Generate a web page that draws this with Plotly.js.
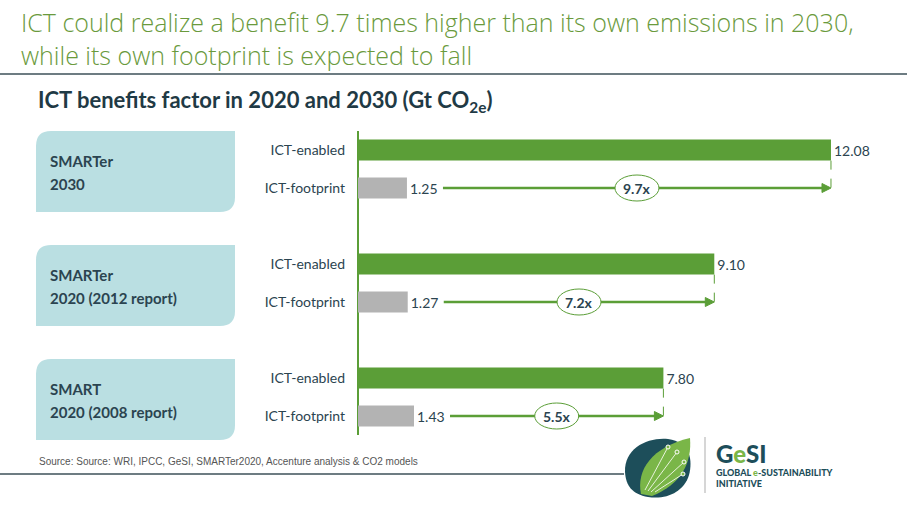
<!DOCTYPE html>
<html><head><meta charset="utf-8">
<script src="https://cdn.plot.ly/plotly-3.0.1.min.js"></script>
<style>html,body{margin:0;padding:0;background:#fff}#chart{width:907px;height:510px}</style>
</head><body><div id="chart"></div>
<script>
// ---- data ----
const titleLines = ["ICT could realize a benefit 9.7 times higher than its own emissions in 2030,", "while its own footprint is expected to fall"];
const groupLine1 = ["SMARTer", "SMARTer", "SMART"];
const groupLine2 = ["2030", "2020 (2012 report)", "2020 (2008 report)"];
const barLabels = ["ICT-enabled", "ICT-footprint"];
const enabled = [12.08, 9.10, 7.80];
const footprint = [1.25, 1.27, 1.43];
const sourceText = "Source: Source: WRI, IPCC, GeSI, SMARTer2020, Accenture analysis & CO2 models";

// ---- layout helpers (pixel -> paper) ----
const W = 907, H = 510;
const X = px => px / W;
const Y = py => 1 - py / H;
const GREEN = "#5b9e37", GRAY = "#b3b3b3", DARK = "#2b4450", BOX = "#badfe2";

const rowEnabled = enabled.map((_, i) => i * 3);
const rowFoot = footprint.map((_, i) => i * 3 + 1);

const traces = [
  {type: "bar", orientation: "h", x: enabled, y: rowEnabled, width: 0.55,
   marker: {color: GREEN}, text: enabled.map(v => v.toFixed(2)), textposition: "outside",
   textfont: {family: "Lato, sans-serif", size: 14, color: DARK}, cliponaxis: false,
   constraintext: "none", hoverinfo: "none"},
  {type: "bar", orientation: "h", x: footprint, y: rowFoot, width: 0.55,
   marker: {color: GRAY}, text: footprint.map(v => v.toFixed(2)), textposition: "outside",
   textfont: {family: "Lato, sans-serif", size: 14, color: DARK}, cliponaxis: false,
   constraintext: "none", hoverinfo: "none"}
];

const shapes = [];
const annotations = [];

// title (one text block, two lines)
annotations.push({xref: "paper", yref: "paper", x: X(19), y: Y(39), xanchor: "left", yanchor: "middle", align: "left",
  text: titleLines.join("<br>"), showarrow: false, font: {family: "Open Sans, sans-serif", size: 25, color: "#6a9a3c", weight: 300}});

// group boxes
const boxTops = [131, 245, 359];
boxTops.forEach((t, i) => {
  const x0 = 36, x1 = 235, y0 = t, y1 = t + 81, r = 15;
  const p = (a, b) => X(a) + "," + Y(b);
  shapes.push({type: "path", xref: "paper", yref: "paper", layer: "below",
    path: `M${p(x0 + r, y0)} L${p(x1, y0)} L${p(x1, y1 - r)} Q${p(x1, y1)} ${p(x1 - r, y1)} L${p(x0, y1)} L${p(x0, y0 + r)} Q${p(x0, y0)} ${p(x0 + r, y0)} Z`,
    fillcolor: BOX, line: {width: 0}});
  annotations.push({xref: "paper", yref: "paper", x: X(48), y: Y(t + 30), xanchor: "left", yanchor: "middle",
    text: groupLine1[i], showarrow: false, font: {family: "Lato, sans-serif", size: 15, color: DARK, weight: 700}});
  annotations.push({xref: "paper", yref: "paper", x: X(48), y: Y(t + 53), xanchor: "left", yanchor: "middle",
    text: groupLine2[i], showarrow: false, font: {family: "Lato, sans-serif", size: 15, color: DARK, weight: 700}});
});

// arrows, dashed connectors, ratio ellipses
enabled.forEach((e, i) => {
  const f = footprint[i];
  const start = f + 0.92;
  const mid = (start + e) / 2;
  shapes.push({type: "line", xref: "x", yref: "y", x0: e, x1: e, y0: rowEnabled[i] + 0.28, y1: rowFoot[i],
    line: {color: GREEN, width: 1, dash: "dash"}});
  shapes.push({type: "line", xref: "x", yref: "y", x0: start, x1: e - 0.15, y0: rowFoot[i], y1: rowFoot[i],
    line: {color: GREEN, width: 2.5}});
  shapes.push({type: "path", xref: "x", yref: "y", xsizemode: "pixel", ysizemode: "pixel",
    xanchor: e, yanchor: rowFoot[i], path: "M-9,-4.5 L0,0 L-9,4.5 Z",
    fillcolor: GREEN, line: {color: GREEN, width: 1}});
  shapes.push({type: "circle", xref: "x", yref: "y", xsizemode: "pixel", ysizemode: "pixel",
    xanchor: mid, yanchor: rowFoot[i], x0: -22, x1: 22, y0: -13, y1: 13,
    fillcolor: "#ffffff", line: {color: GREEN, width: 1}});
  annotations.push({xref: "x", yref: "y", x: mid, y: rowFoot[i], text: (e / f).toFixed(1) + "x",
    showarrow: false, font: {family: "Lato, sans-serif", size: 14, color: DARK, weight: 700}});
});

// rules
shapes.push({type: "line", xref: "paper", yref: "paper", x0: 0, x1: 1, y0: Y(74), y1: Y(74), line: {color: "#3d5058", width: 1.5}});
shapes.push({type: "line", xref: "paper", yref: "paper", x0: 0, x1: X(624), y0: Y(474), y1: Y(474), line: {color: "#3d5058", width: 1.5}});
// logo separator
shapes.push({type: "line", xref: "paper", yref: "paper", x0: X(705), x1: X(705), y0: Y(437), y1: Y(493), line: {color: "#c8c8c8", width: 1.5}});
// logo leaf
shapes.push({type: "path", xref: "paper", yref: "paper",
  path: `M${X(625)},${Y(472)} C${X(624)},${Y(448)} ${X(648)},${Y(437)} ${X(668)},${Y(439)} C${X(690)},${Y(442)} ${X(693)},${Y(460)} ${X(689)},${Y(475)} C${X(684)},${Y(492)} ${X(666)},${Y(500)} ${X(648)},${Y(497)} C${X(632)},${Y(494)} ${X(626)},${Y(486)} ${X(625)},${Y(472)} Z`,
  fillcolor: "#1d4e5a", line: {width: 0}});
shapes.push({type: "path", xref: "paper", yref: "paper",
  path: `M${X(641)},${Y(494)} C${X(636)},${Y(470)} ${X(652)},${Y(447)} ${X(690)},${Y(438)} C${X(692)},${Y(462)} ${X(682)},${Y(484)} ${X(652)},${Y(496)} Z`,
  fillcolor: "#7ab648", line: {width: 0}});
[[645, 490, 668, 447], [648, 491, 677, 452], [651, 492, 684, 462], [655, 492, 683, 474]].forEach(([a, b, c, d]) => {
  shapes.push({type: "line", xref: "paper", yref: "paper", x0: X(a), y0: Y(b), x1: X(c), y1: Y(d), line: {color: "#e8f3dc", width: 1}});
  shapes.push({type: "circle", xref: "paper", yref: "paper", x0: X(c - 2), x1: X(c + 2), y0: Y(d + 2), y1: Y(d - 2), fillcolor: "#7ab648", line: {color: "#ffffff", width: 1}});
});

// texts
annotations.push({xref: "paper", yref: "paper", x: X(36), y: Y(101), xanchor: "left", yanchor: "middle",
  text: "ICT benefits factor in 2020 and 2030 (Gt CO<sub>2e</sub>)", showarrow: false,
  font: {family: "Lato, sans-serif", size: 22, color: "#1f3a45", weight: 700}});
annotations.push({xref: "paper", yref: "paper", x: X(37), y: Y(461), xanchor: "left", yanchor: "middle",
  text: sourceText, showarrow: false, font: {family: "Liberation Sans Narrow, Arial, sans-serif", size: 10, color: "#555555"}});
annotations.push({xref: "paper", yref: "paper", x: X(714), y: Y(453), xanchor: "left", yanchor: "middle",
  text: "G<span style='color:#7ab648'>e</span>SI", showarrow: false,
  font: {family: "Lato, sans-serif", size: 24, color: "#1d4e5a", weight: 900}});
annotations.push({xref: "paper", yref: "paper", x: X(714), y: Y(472), xanchor: "left", yanchor: "middle",
  text: "GLOBAL <span style='color:#7ab648'>e</span>-SUSTAINABILITY", showarrow: false,
  font: {family: "Lato, sans-serif", size: 9, color: "#1d4e5a", weight: 900}});
annotations.push({xref: "paper", yref: "paper", x: X(714), y: Y(483), xanchor: "left", yanchor: "middle",
  text: "INITIATIVE", showarrow: false,
  font: {family: "Lato, sans-serif", size: 9, color: "#1d4e5a", weight: 900}});

const tickvals = [], ticktext = [];
enabled.forEach((_, i) => { tickvals.push(rowEnabled[i], rowFoot[i]); ticktext.push(barLabels[0], barLabels[1]); });

const layout = {
  width: W, height: H, margin: {l: 0, r: 0, t: 0, b: 0},
  paper_bgcolor: "#ffffff", plot_bgcolor: "#ffffff", showlegend: false,
  xaxis: {domain: [X(358), X(867)], range: [0, 13], showgrid: false, showticklabels: false,
    zeroline: true, zerolinecolor: GREEN, zerolinewidth: 2, showline: false, fixedrange: true},
  yaxis: {domain: [Y(435), Y(131)], range: [7.5, -0.5], tickvals: tickvals, ticktext: ticktext,
    showgrid: false, zeroline: false, showline: false, ticks: "", ticklabelstandoff: 12,
    tickfont: {family: "Lato, sans-serif", size: 14, color: DARK}, fixedrange: true},
  shapes: shapes, annotations: annotations
};

Plotly.newPlot("chart", traces, layout, {displayModeBar: false, staticPlot: true});
</script></body></html>
